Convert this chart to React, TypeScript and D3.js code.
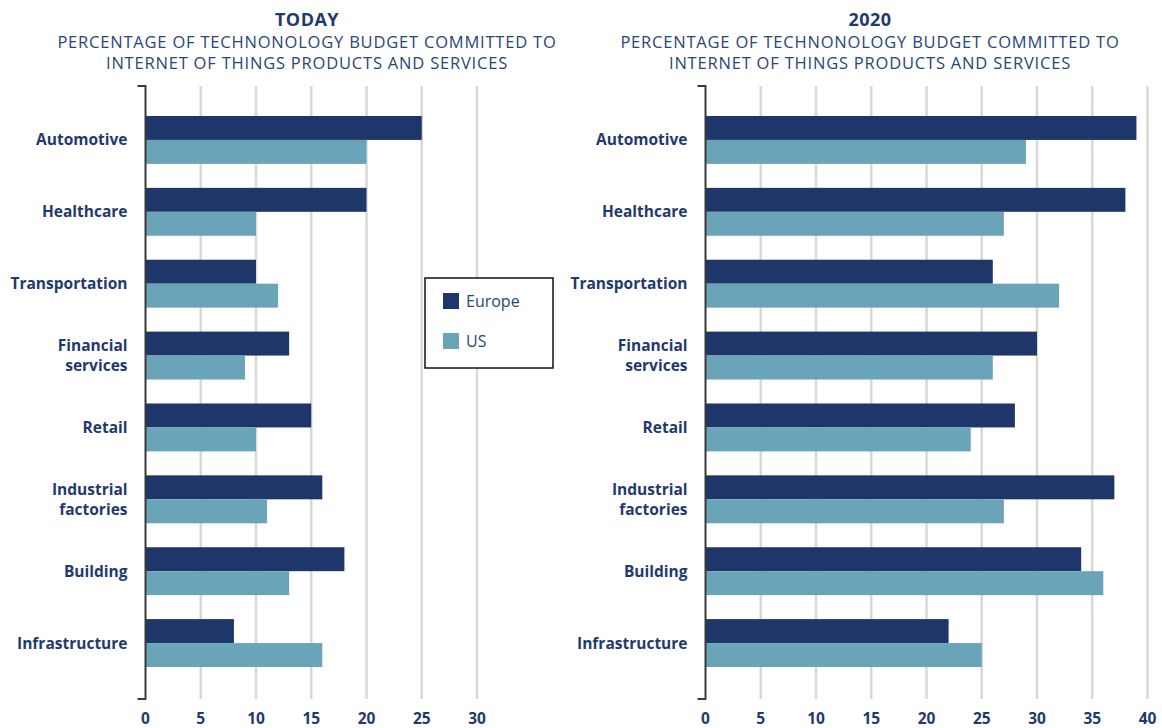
import React, { useEffect, useRef } from 'react';
import * as d3 from 'd3';

// categories top to bottom
const categories = [
  'Automotive',
  'Healthcare',
  'Transportation',
  'Financial\nservices',
  'Retail',
  'Industrial\nfactories',
  'Building',
  'Infrastructure',
];
const seriesNames = ['Europe', 'US'];

const todayEurope = [25, 20, 10, 13, 15, 16, 18, 8];
const todayUS = [20, 10, 12, 9, 10, 11, 13, 16];
const future2020Europe = [39, 38, 26, 30, 28, 37, 34, 22];
const future2020US = [29, 27, 32, 26, 24, 27, 36, 25];

const todayTicks = [0, 5, 10, 15, 20, 25, 30];
const futureTicks = [0, 5, 10, 15, 20, 25, 30, 35, 40];

const subtitleLines = [
  'PERCENTAGE OF TECHNONOLOGY BUDGET COMMITTED TO',
  'INTERNET OF THINGS PRODUCTS AND SERVICES',
];

const colors: Record<string, string> = { Europe: '#1f366b', US: '#6aa4b8' };
const textColor = '#1f3a6d';
const font = "'Open Sans', 'DejaVu Sans', sans-serif";

const Chart = () => {
  const ref = useRef<SVGSVGElement | null>(null);

  useEffect(() => {
    if (!ref.current) return;
    const svg = d3.select(ref.current);
    svg.selectAll('*').remove();

    const top = 86;
    const bottom = 699;
    const pxPerUnit = 11.05;

    const y = d3.scaleBand<string>()
      .domain(categories)
      .range([104, 679])
      .paddingInner(1 / 3)
      .paddingOuter(1 / 6);
    const y1 = d3.scaleBand<string>()
      .domain(seriesNames)
      .range([0, y.bandwidth()]);

    const drawPanel = (
      x0: number,
      titleX: number,
      title: string,
      ticks: number[],
      europe: number[],
      us: number[],
      withLegend: boolean,
    ) => {
      const max = ticks[ticks.length - 1];
      const x = d3.scaleLinear().domain([0, max]).range([x0, x0 + max * pxPerUnit]);
      const g = svg.append('g');

      // titles
      g.append('text')
        .attr('x', titleX).attr('y', 26)
        .attr('text-anchor', 'middle')
        .attr('font-family', font).attr('font-weight', 700)
        .attr('font-size', 18).attr('letter-spacing', 0.5).attr('fill', textColor)
        .text(title);
      subtitleLines.forEach((line, i) => {
        g.append('text')
          .attr('x', titleX).attr('y', 48 + i * 21)
          .attr('text-anchor', 'middle')
          .attr('font-family', font)
          .attr('font-size', 16.5).attr('letter-spacing', 0.8).attr('fill', '#2a4676')
          .text(line);
      });

      // grid lines
      g.selectAll('line.grid')
        .data(ticks.filter((t) => t > 0))
        .enter().append('line')
        .attr('x1', (d) => x(d)).attr('x2', (d) => x(d))
        .attr('y1', top).attr('y2', bottom)
        .attr('stroke', '#d8d8d8').attr('stroke-width', 2.5);

      // bars
      const rows = categories.map((c, i) => ({ c, values: [europe[i], us[i]] }));
      const grp = g.selectAll('g.row')
        .data(rows)
        .enter().append('g')
        .attr('transform', (d) => `translate(0, ${y(d.c)})`);
      grp.selectAll('rect')
        .data((d) => d.values.map((v, i) => ({ s: seriesNames[i], v })))
        .enter().append('rect')
        .attr('x', x(0))
        .attr('y', (d) => y1(d.s)!)
        .attr('width', (d) => x(d.v) - x(0))
        .attr('height', y1.bandwidth())
        .attr('fill', (d) => colors[d.s]);

      // category labels
      categories.forEach((c) => {
        const lines = c.split('\n');
        const cy = y(c)! + y.bandwidth() / 2;
        const t = g.append('text')
          .attr('text-anchor', 'end')
          .attr('font-family', font).attr('font-weight', 700)
          .attr('font-size', 15.5).attr('fill', textColor);
        lines.forEach((l, i) => {
          t.append('tspan')
            .attr('x', x0 - 18)
            .attr('y', cy + 5.5 + (i - (lines.length - 1) / 2) * 20)
            .text(l);
        });
      });

      // axis line with end ticks
      g.append('path')
        .attr('d', `M${x0 - 8},${top}H${x0}V${bottom}H${x0 - 8}`)
        .attr('fill', 'none').attr('stroke', '#3a3a3a').attr('stroke-width', 2);

      // tick labels
      g.selectAll('text.tick')
        .data(ticks)
        .enter().append('text')
        .attr('x', (d) => x(d)).attr('y', 724)
        .attr('text-anchor', 'middle')
        .attr('font-family', font).attr('font-weight', 700)
        .attr('font-size', 15.5).attr('fill', textColor)
        .text((d) => d);

      if (withLegend) {
        const lg = g.append('g').attr('transform', 'translate(425, 278)');
        lg.append('rect')
          .attr('width', 128).attr('height', 90)
          .attr('fill', '#fff').attr('stroke', '#111').attr('stroke-width', 1.5);
        seriesNames.forEach((s, i) => {
          lg.append('rect')
            .attr('x', 18).attr('y', 15 + i * 40)
            .attr('width', 16).attr('height', 16)
            .attr('fill', colors[s]);
          lg.append('text')
            .attr('x', 41).attr('y', 29 + i * 40)
            .attr('font-family', font)
            .attr('font-size', 16).attr('fill', '#2a4676')
            .text(s);
        });
      }
    };

    drawPanel(145.5, 307, 'TODAY', todayTicks, todayEurope, todayUS, true);
    drawPanel(705.5, 870, '2020', futureTicks, future2020Europe, future2020US, false);
  }, []);

  return (
    <svg
      ref={ref}
      width={1162}
      height={728}
      style={{ position: 'absolute', left: 0, top: 0, background: '#fff' }}
    />
  );
};

export default function App() {
  return <Chart />;
}
